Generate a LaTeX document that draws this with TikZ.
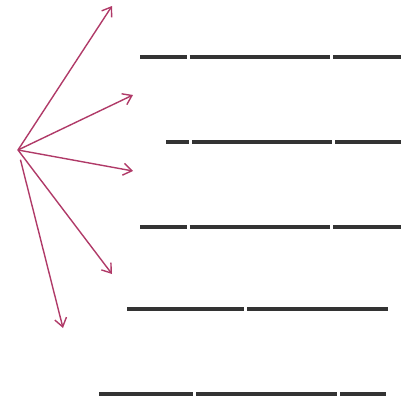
\documentclass[tikz,border=0pt]{standalone}
\usetikzlibrary{arrows.meta}

\begin{document}
\begin{tikzpicture}[
  x=1pt, y=-1pt,
  ray/.style={-{Straight Barb[length=8.5pt,width=12pt]}, line width=1.4pt, draw=rayred},
  bar/.style={line width=3.6pt, draw=bargray}
]
\definecolor{rayred}{HTML}{B03A68}
\definecolor{bargray}{HTML}{333333}
\useasboundingbox (0,0) rectangle (401,402);

\coordinate (src) at (18,150);
\coordinate (t1) at (112,6);
\coordinate (t2) at (133,95);
\coordinate (t3) at (133,171);
\coordinate (t4) at (112,274);
\coordinate (t5) at (63,328);

\draw[ray] (src) -- (t1);
\draw[ray] (src) -- (t2);
\draw[ray] (src) -- (t3);
\draw[ray] (src) -- (t4);
\draw[ray, shorten <=10pt] (src) -- (t5);

% text bars
\draw[bar] (140,57) -- (187,57);
\draw[bar] (189.5,57) -- (330,57);
\draw[bar] (333,57) -- (401,57);

\draw[bar] (166,142) -- (189,142);
\draw[bar] (192,142) -- (332,142);
\draw[bar] (335,142) -- (401,142);

\draw[bar] (140,227) -- (187,227);
\draw[bar] (189.5,227) -- (330,227);
\draw[bar] (333,227) -- (401,227);

\draw[bar] (127,309) -- (244,309);
\draw[bar] (247,309) -- (388,309);

\draw[bar] (99,394) -- (193,394);
\draw[bar] (196,394) -- (337,394);
\draw[bar] (340,394) -- (386,394);

\end{tikzpicture}
\end{document}
